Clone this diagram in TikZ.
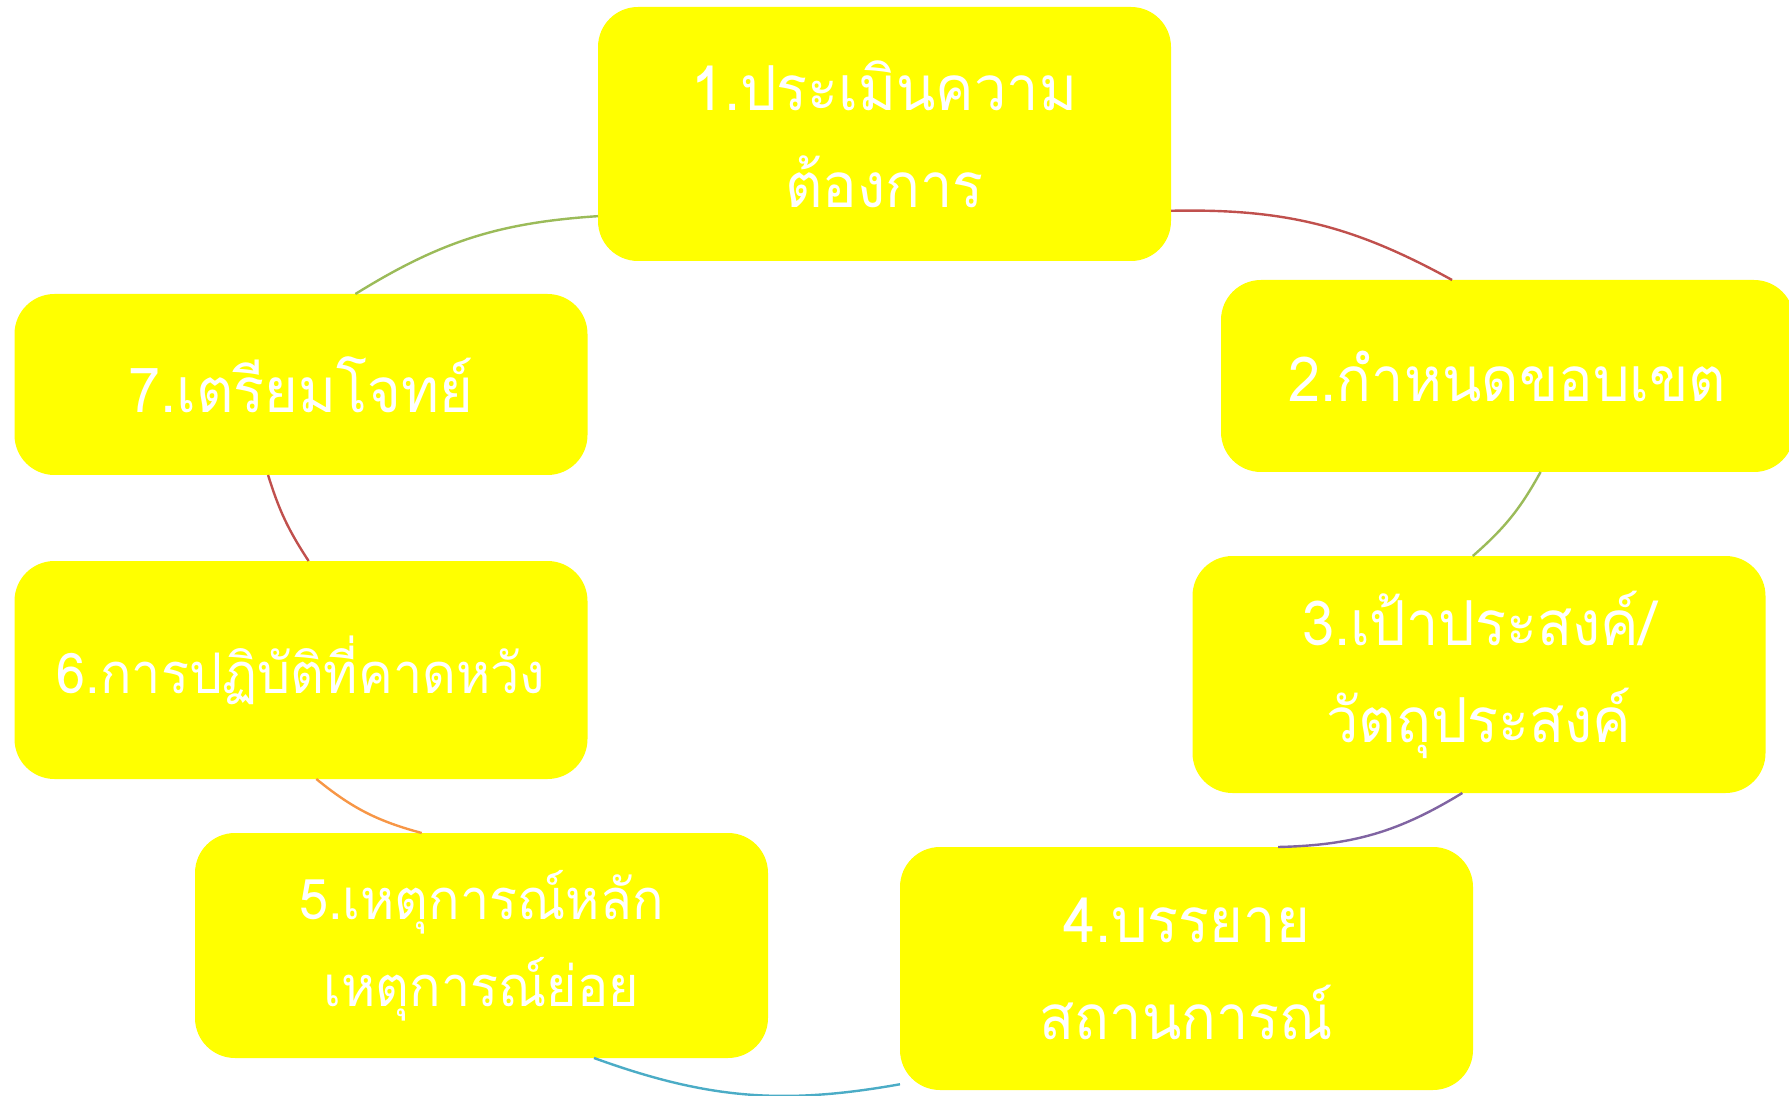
\documentclass[tikz,border=0pt]{standalone}
\usepackage{fontspec}
\newfontfamily\thaifont[Script=Thai,FakeStretch=0.93]{Loma}
\definecolor{boxyellow}{HTML}{FFFF00}
\definecolor{cred}{HTML}{C0504D}
\definecolor{cgreen}{HTML}{9BBB59}
\definecolor{cpurple}{HTML}{8064A2}
\definecolor{ccyan}{HTML}{4BACC6}
\definecolor{corange}{HTML}{F79646}
\begin{document}
\begin{tikzpicture}[x=0.5pt,y=-0.5pt,
  box/.style={rectangle, rounded corners=20pt, fill=boxyellow, text=white,
    minimum width=286.5pt, align=center, inner sep=0pt, outer sep=0pt,
    font=\thaifont\fontsize{31}{48.5}\selectfont},
  smalltext/.style={font=\thaifont\fontsize{28}{43.5}\selectfont},
  link/.style={line width=1.2pt}]
\useasboundingbox (0,0) rectangle (1789,1096);
\node[box, minimum height=127pt]   (n1) at (884.5,134)   {1.ประเมินความ\\ต้องการ};
\node[box, minimum height=96pt]    (n2) at (1507.5,376)  {2.กำหนดขอบเขต};
\node[box, minimum height=118.5pt] (n3) at (1479,674.5)  {3.เป้าประสงค์/\\วัตถุประสงค์};
\node[box, minimum height=121.5pt] (n4) at (1186.5,968.5){4.บรรยาย\\สถานการณ์};
\node[box, smalltext, minimum height=112.5pt] (n5) at (481.5,945.5) {5.เหตุการณ์หลัก\\เหตุการณ์ย่อย};
\node[box, smalltext, minimum height=109pt]   (n6) at (301,670)     {6.การปฏิบัติที่คาดหวัง};
\node[box, minimum height=90.5pt]  (n7) at (301,384.5)   {7.เตรียมโจทย์};
\draw[link, cred]    (n1.-15.6) to[bend left=15] (n2.120.6);
\draw[link, cgreen]  (n2.-71.1) to[bend left=10] (n3.93.3);
\draw[link, cpurple] (n3.-98)   to[bend left=15] (n4.53.5);
\draw[link, ccyan]   (n4.202.3) to[bend left=15] (n5.-45.5);
\draw[link, corange] (n5.118.1) to[bend left=12] (n6.-82.7);
\draw[link, cred]    (n6.86.4)  to[bend left=8]  (n7.-110.4);
\draw[link, cgreen]  (n7.59.5)  to[bend left=14] (n1.196.9);
\end{tikzpicture}
\end{document}
